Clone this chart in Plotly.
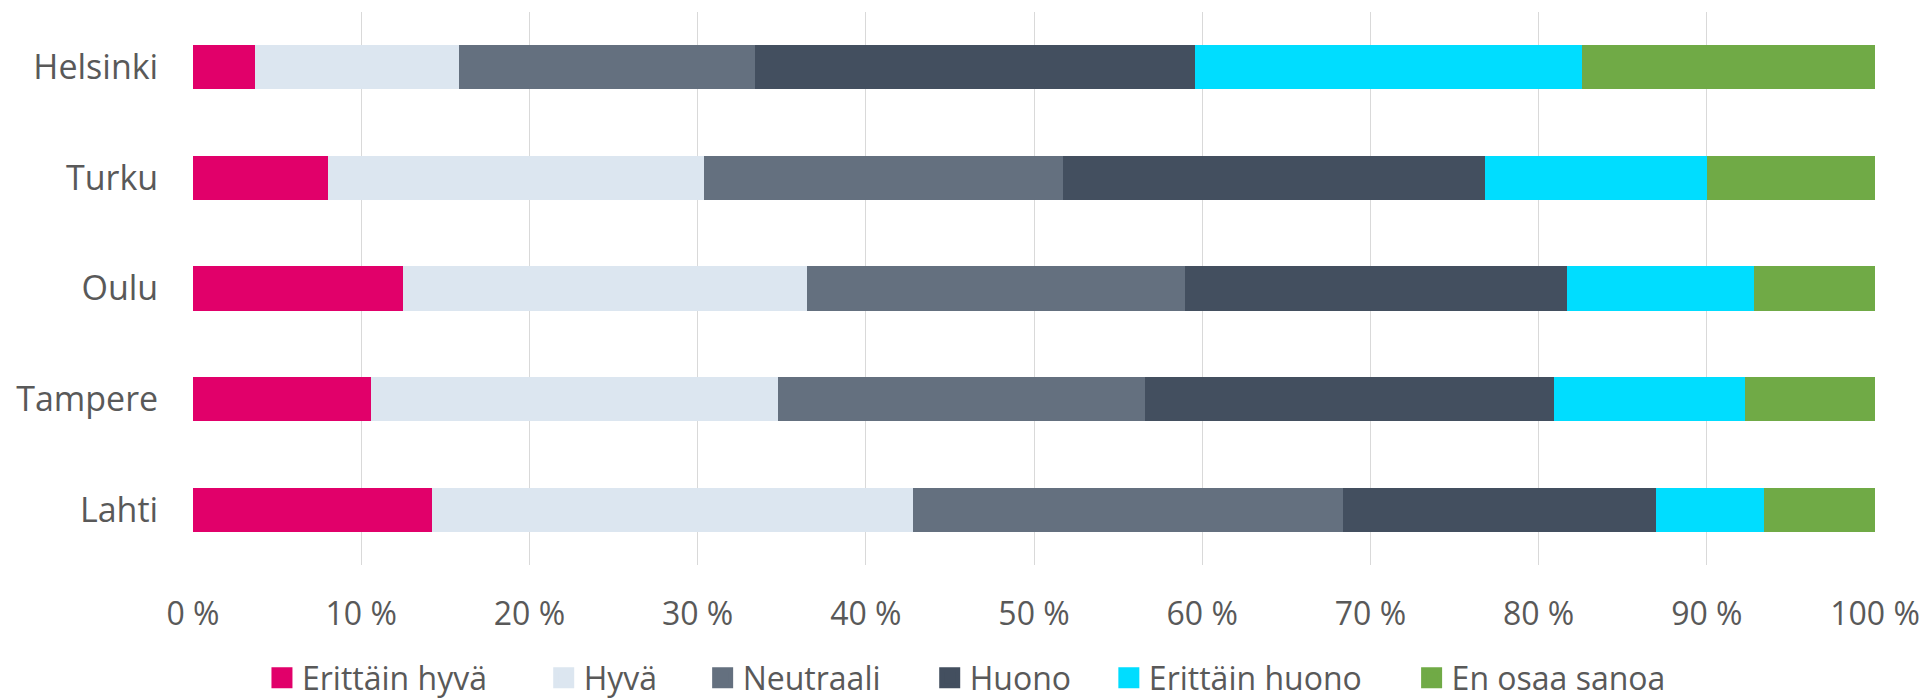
import plotly.graph_objects as go

cities = ["Helsinki", "Turku", "Oulu", "Tampere", "Lahti"]
series_names = ["Erittäin hyvä", "Hyvä", "Neutraali", "Huono", "Erittäin huono", "En osaa sanoa"]
erittain_hyva = [3.7, 8.0, 12.5, 10.6, 14.2]
hyva = [12.1, 22.4, 24.0, 24.2, 28.6]
neutraali = [17.6, 21.3, 22.5, 21.8, 25.6]
huono = [26.2, 25.1, 22.7, 24.3, 18.6]
erittain_huono = [23.0, 13.2, 11.1, 11.4, 6.4]
en_osaa = [17.4, 10.0, 7.2, 7.7, 6.6]
tick_vals = [0, 10, 20, 30, 40, 50, 60, 70, 80, 90, 100]
tick_text = [f"{v} %" for v in tick_vals]

colors = ["#E1006A", "#DCE6F0", "#64707F", "#434F5F", "#00DDFF", "#70AA46"]
values = [erittain_hyva, hyva, neutraali, huono, erittain_huono, en_osaa]

# legend item positions (paper x of each legend box's left edge)
legend_x = [0.041, 0.2085, 0.303, 0.438, 0.5445, 0.7245]
legend_ids = ["legend", "legend2", "legend3", "legend4", "legend5", "legend6"]

fig = go.Figure()
for name, vals, col in zip(series_names, values, colors):
    fig.add_trace(go.Bar(
        y=cities, x=vals, name=name, orientation="h",
        marker=dict(color=col, line=dict(width=0)),
        width=0.4, showlegend=False,
    ))
for name, col, lid in zip(series_names, colors, legend_ids):
    fig.add_trace(go.Scatter(
        x=[None], y=[None], mode="markers", name=name, legend=lid,
        marker=dict(symbol="square", size=16, color=col, line=dict(color=col, width=5)),
    ))

font_family = "Open Sans, Noto Sans, sans-serif"
legend_style = dict(orientation="h", xanchor="left", y=-0.2043, yanchor="middle",
                    font=dict(size=32, color="#595959"), itemsizing="trace",
                    bgcolor="rgba(0,0,0,0)")
layout_legends = {lid: dict(x=lx, **legend_style) for lid, lx in zip(legend_ids, legend_x)}

fig.update_layout(
    barmode="stack",
    width=1929, height=699,
    margin=dict(l=193, r=54, t=12, b=134, pad=0, autoexpand=False),
    paper_bgcolor="white", plot_bgcolor="white",
    font=dict(family=font_family, color="#595959", size=30),
    xaxis=dict(range=[0, 100], tickvals=tick_vals, ticktext=tick_text,
               showgrid=True, gridcolor="#D9D9D9", gridwidth=1.3,
               zeroline=False, showline=False, automargin=False,
               ticks="outside", ticklen=21, tickcolor="rgba(0,0,0,0)",
               tickfont=dict(size=32, color="#595959")),
    yaxis=dict(autorange="reversed", showgrid=False, zeroline=False, showline=False,
               automargin=False,
               ticks="outside", ticklen=27, tickcolor="rgba(0,0,0,0)",
               tickfont=dict(size=34, color="#595959")),
    bargap=0.6,
    **layout_legends,
)
fig.write_html("out.html", config={"displayModeBar": False},
               post_script="document.body.style.margin='0';document.body.style.overflow='hidden';")
